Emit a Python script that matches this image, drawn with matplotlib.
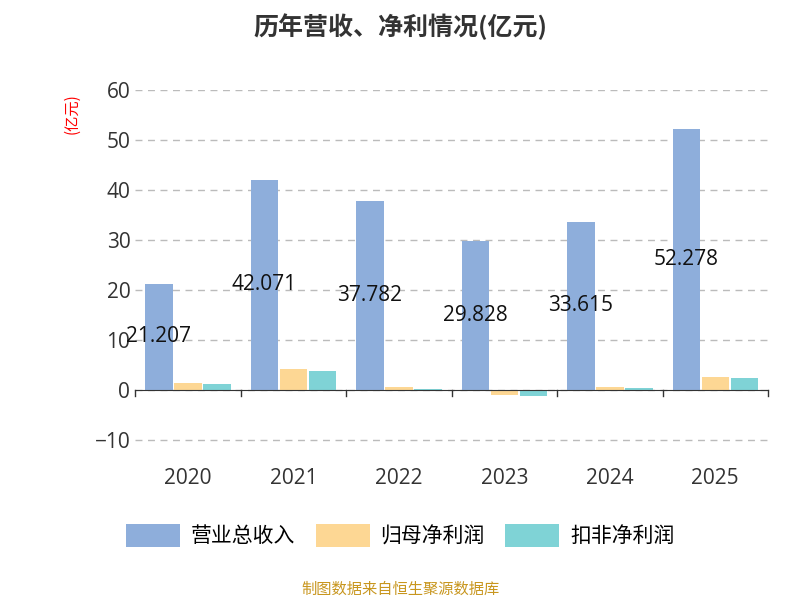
import matplotlib
matplotlib.use("Agg")
import matplotlib.pyplot as plt
import numpy as np

plt.rcParams['font.family'] = ['Open Sans', 'Noto Sans CJK SC', 'DejaVu Sans']

years = ["2020", "2021", "2022", "2023", "2024", "2025"]
revenue = [21.207, 42.071, 37.782, 29.828, 33.615, 52.278]
net_profit = [1.4, 4.2, 0.5, -1.1, 0.5, 2.6]
deducted_profit = [1.1, 3.7, 0.2, -1.3, 0.3, 2.3]
series_names = ["营业总收入", "归母净利润", "扣非净利润"]
colors = ["#8eaedb", "#fdd794", "#7fd3d6"]

fig = plt.figure(figsize=(8, 6), dpi=100)
ax = fig.add_axes([0.169, 0.262, 0.791, 0.588])

x = np.arange(len(years))
w = 0.26
off = 0.275
for i, (vals, c, name) in enumerate(zip([revenue, net_profit, deducted_profit], colors, series_names)):
    ax.bar(x + (i - 1) * off, vals, w, color=c, label=name)

for xi, v in zip(x, revenue):
    ax.text(xi - off, v / 2, f"{v:.3f}", ha="center", va="center", fontsize=15, color="#111111")

ax.set_xlim(-0.5, len(years) - 0.5)
ax.set_ylim(-10.6, 60)
ax.set_yticks(range(-10, 61, 10))
ax.grid(True, axis="y", linestyle=(0, (5, 4)), color="#bbbbbb", linewidth=1)
ax.set_axisbelow(True)
for s in ["top", "right", "left"]:
    ax.spines[s].set_visible(False)
ax.spines["bottom"].set_position(("data", 0))
ax.spines["bottom"].set_color("#333333")
ax.set_xticks(x)
ax.set_xticklabels(years)
ax.tick_params(axis="x", length=0, pad=56, labelsize=15, colors="#333333")
ax.tick_params(axis="y", length=0, labelsize=15, colors="#333333")
for b in np.arange(-0.5, len(years), 1):
    ax.plot([b, b], [0, -1.2], color="#333333", lw=1, clip_on=False)

fig.text(0.09, 0.81, "(亿元)", color="red", rotation=90, fontsize=11, ha="center", va="center",
         family=['Noto Sans CJK SC'])
fig.text(0.5, 0.955, "历年营收、净利情况(亿元)", ha="center", va="center", fontsize=18, fontweight="bold",
         color="#333333", family=['Noto Sans CJK SC'])

fig.legend(loc="center", bbox_to_anchor=(0.5, 0.107), ncol=3, frameon=False,
           prop={'family': 'Noto Sans CJK SC', 'size': 15},
           handlelength=2.6, handleheight=1.3, columnspacing=1.0, handletextpad=0.5)
fig.text(0.5, 0.018, "制图数据来自恒生聚源数据库", ha="center", va="center", fontsize=11, color="#c8961e",
         family=['Noto Sans CJK SC'])

fig.savefig("out.png", dpi=100)
